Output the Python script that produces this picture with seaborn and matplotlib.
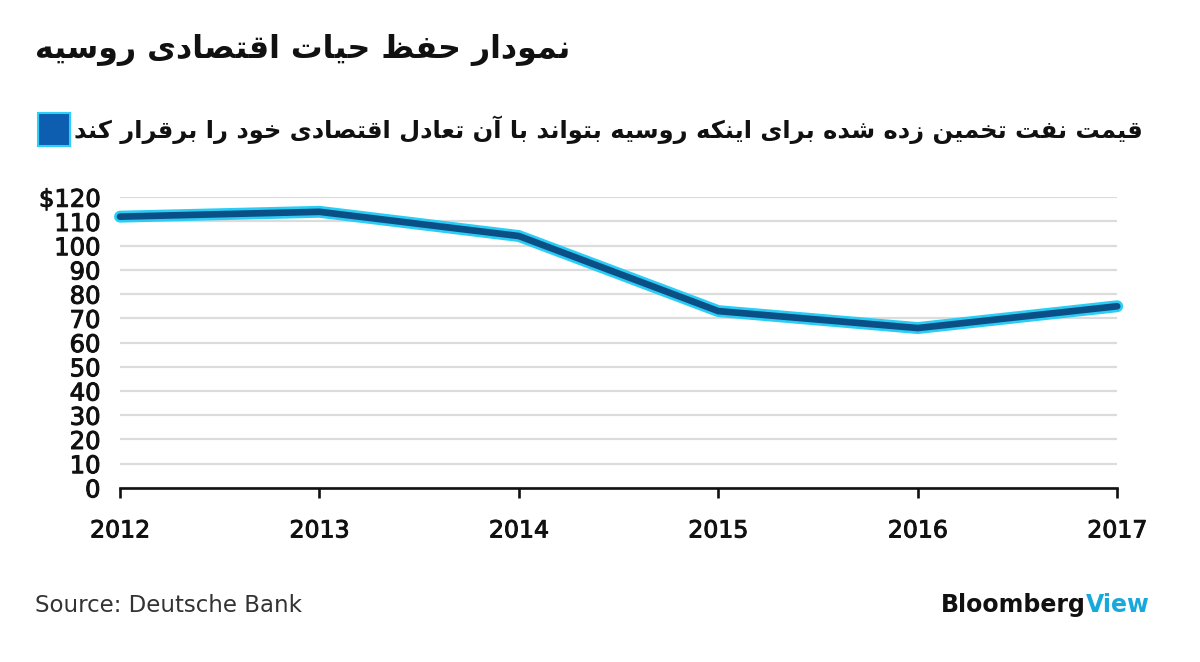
import matplotlib
matplotlib.use('Agg')
import matplotlib.pyplot as plt
import matplotlib.patches as mpatches
import matplotlib.patheffects as pe
import pandas as pd
import seaborn as sns

# Data
years = [2012, 2013, 2014, 2015, 2016, 2017]
breakeven_price = [112, 114, 104, 73, 66, 75]
y_ticks = [0, 10, 20, 30, 40, 50, 60, 70, 80, 90, 100, 110, 120]
y_tick_labels = ['0', '10', '20', '30', '40', '50', '60', '70', '80', '90', '100', '110', '$120']

title_text = 'نمودار حفظ حیات اقتصادی روسیه'
legend_text = 'قیمت نفت تخمین زده شده برای اینکه روسیه بتواند با آن تعادل اقتصادی خود را برقرار کند'
source_text = 'Source: Deutsche Bank'

# matplotlib does no Arabic shaping, so map letters to presentation forms
# (isolated, final, initial, medial); None = joins only to the right
FORMS = {
    'ا': (0xFE8D, 0xFE8E, None, None),
    'آ': (0xFE81, 0xFE82, None, None),
    'ب': (0xFE8F, 0xFE90, 0xFE91, 0xFE92),
    'ت': (0xFE95, 0xFE96, 0xFE97, 0xFE98),
    'ح': (0xFEA1, 0xFEA2, 0xFEA3, 0xFEA4),
    'خ': (0xFEA5, 0xFEA6, 0xFEA7, 0xFEA8),
    'د': (0xFEA9, 0xFEAA, None, None),
    'ر': (0xFEAD, 0xFEAE, None, None),
    'ز': (0xFEAF, 0xFEB0, None, None),
    'س': (0xFEB1, 0xFEB2, 0xFEB3, 0xFEB4),
    'ش': (0xFEB5, 0xFEB6, 0xFEB7, 0xFEB8),
    'ص': (0xFEB9, 0xFEBA, 0xFEBB, 0xFEBC),
    'ظ': (0xFEC5, 0xFEC6, 0xFEC7, 0xFEC8),
    'ع': (0xFEC9, 0xFECA, 0xFECB, 0xFECC),
    'ف': (0xFED1, 0xFED2, 0xFED3, 0xFED4),
    'ق': (0xFED5, 0xFED6, 0xFED7, 0xFED8),
    'ل': (0xFEDD, 0xFEDE, 0xFEDF, 0xFEE0),
    'م': (0xFEE1, 0xFEE2, 0xFEE3, 0xFEE4),
    'ن': (0xFEE5, 0xFEE6, 0xFEE7, 0xFEE8),
    'ه': (0xFEE9, 0xFEEA, 0xFEEB, 0xFEEC),
    'و': (0xFEED, 0xFEEE, None, None),
    'ی': (0xFBFC, 0xFBFD, 0xFBFE, 0xFBFF),
    'ک': (0xFB8E, 0xFB8F, 0xFB90, 0xFB91),
}


def shape_rtl(text):
    out = []
    for i, ch in enumerate(text):
        if ch not in FORMS:
            out.append(ch)
            continue
        prev = text[i - 1] if i > 0 else ''
        nxt = text[i + 1] if i + 1 < len(text) else ''
        join_prev = prev in FORMS and FORMS[prev][2] is not None
        join_next = nxt in FORMS and FORMS[ch][2] is not None
        iso, fin, ini, med = FORMS[ch]
        if join_prev and join_next:
            code = med
        elif join_prev:
            code = fin
        elif join_next:
            code = ini
        else:
            code = iso
        out.append(chr(code))
    return ''.join(out)[::-1]


df = pd.DataFrame({'year': years, 'price': breakeven_price})

sns.set_style('white')
plt.rcParams['font.family'] = ['DejaVu Sans']

fig = plt.figure(figsize=(12, 6.62), dpi=100)
ax = fig.add_axes([0.1, 0.263, 0.831, 0.439])

# cyan glow under the dark blue line
sns.lineplot(data=df, x='year', y='price', ax=ax, color='#2ccdf5', linewidth=8.6,
             clip_on=False, zorder=3)
sns.lineplot(data=df, x='year', y='price', ax=ax, color='#0a4f86', linewidth=4.8,
             clip_on=False, zorder=4)

ax.set_xlim(years[0], years[-1])
ax.set_ylim(0, 120)
ax.set_xticks(years)
ax.set_xticklabels([str(y) for y in years], fontsize=17, color='#111111')
ax.set_yticks(y_ticks)
ax.set_yticklabels(y_tick_labels, fontsize=17.5, color='#111111')
ax.set_xlabel('')
ax.set_ylabel('')
# the reference digits are a touch heavier than DejaVu regular
for lab in ax.get_xticklabels() + ax.get_yticklabels():
    lab.set_path_effects([pe.withStroke(linewidth=0.7, foreground='#111111')])

ax.grid(axis='y', color='#dcdcdc', linewidth=1.6)
ax.grid(axis='x', visible=False)
for side in ['top', 'right', 'left']:
    ax.spines[side].set_visible(False)
ax.spines['bottom'].set_color('#111111')
ax.spines['bottom'].set_linewidth(1.9)
ax.spines['bottom'].set_zorder(5)
ax.tick_params(axis='x', bottom=True, direction='out', length=7, width=1.9,
               color='#111111', pad=15)
ax.tick_params(axis='y', left=False, length=0, pad=14)

# title and legend row
fig.text(0.029, 0.925, shape_rtl(title_text), ha='left', va='center',
         fontsize=22.8, fontweight='bold', color='#111111')
fig.patches.append(mpatches.Rectangle((0.0317, 0.779), 0.0267, 0.0498,
                                      transform=fig.transFigure, figure=fig,
                                      facecolor='#0d5db0', edgecolor='#2ad0f5',
                                      linewidth=1.5))
fig.text(0.9525, 0.8036, shape_rtl(legend_text), ha='right', va='center',
         fontsize=17.4, fontweight='bold', color='#111111')

# footer
fig.text(0.029, 0.086, source_text, ha='left', va='center', fontsize=16.5,
         color='#333333')
view = fig.text(0.958, 0.086, 'View', ha='right', va='center', fontsize=17,
                fontweight='bold', color='#18a9dc')
ax.annotate('Bloomberg', xy=(0, 0.5), xycoords=view, ha='right', va='center',
            fontsize=17, fontweight='bold', color='#111111')

fig.savefig('out.png', dpi=100, facecolor='white')
